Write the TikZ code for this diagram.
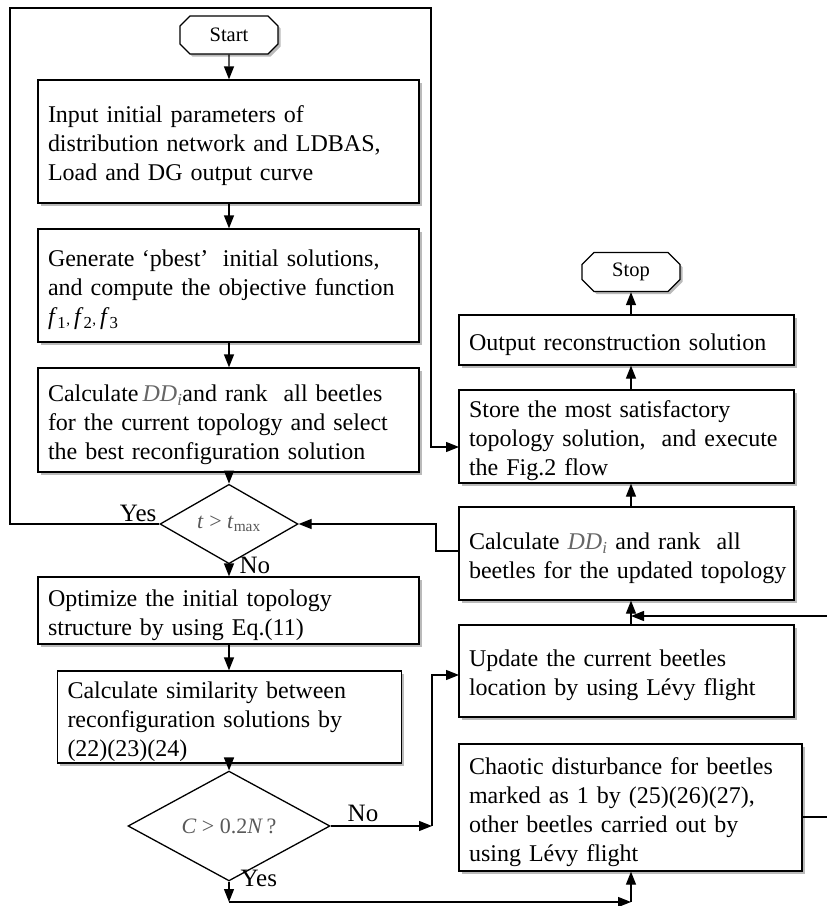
\documentclass[tikz,border=0pt]{standalone}
\usepackage{fontspec}
\setmainfont{Liberation Serif}
\usetikzlibrary{shapes.geometric,shapes.misc,arrows.meta,shadows}
\newcommand{\tp}{\rule{0pt}{26pt}}
\newcommand{\bxfont}{\fontsize{24}{29}\selectfont\hyphenpenalty=10000\relax\hbadness=10000\relax\hfuzz=20pt\relax}
\begin{document}
\begin{tikzpicture}[x=1pt,y=-1pt,
  line width=1.3pt,
  arr/.style={-{Triangle[length=13pt,width=10pt]}},
  shad/.style={drop shadow={shadow xshift=2.5pt,shadow yshift=-2.5pt,fill=black!45,opacity=0.6}},
  box/.style={draw,fill=white,shad,rectangle,inner xsep=10pt,inner ysep=0pt,align=left,
    font=\bxfont,anchor=center},
  term/.style={draw,fill=white,shad,chamfered rectangle,chamfered rectangle xsep=10pt,
    minimum width=98pt,minimum height=38pt,inner sep=0pt,font=\fontsize{20.5}{24}\selectfont},
  dec/.style={draw,fill=white,diamond,inner sep=0pt,font=\fontsize{22}{26}\selectfont,text=black!65},
  lbl/.style={font=\fontsize{25}{28}\selectfont,inner sep=0pt},
]
\useasboundingbox (0,0) rectangle (827,906);
% left column
\node[term] (start) at (229,35) {Start};
\node[box,minimum width=381pt,minimum height=123pt,text width=361pt] (input) at (228.5,141.5)
  {\tp Input initial parameters of\\distribution network and LDBAS,\\Load and DG output curve};
\node[box,minimum width=381pt,minimum height=113pt,text width=361pt] (gen) at (228.5,285.5)
  {\tp Generate\hspace{0.3em}‘pbest’\hspace{0.6em}initial solutions,\\and compute the objective function\\
   \textit{f}\textsubscript{1}{\fontsize{15}{15}\selectfont,}\,\textit{f}\textsubscript{2}{\fontsize{15}{15}\selectfont,}\,\textit{f}\textsubscript{3}};
\node[box,minimum width=381pt,minimum height=104pt,text width=361pt] (calc) at (228.5,420)
  {\tp Calculate\,{\color{black!60}\textit{DD}\textsubscript{\textit{i}}}and rank\ \ all beetles\\for the current topology and select\\the best reconfiguration solution};
\node[dec,minimum width=138pt,minimum height=51pt] (d1) at (229,524)
  {\textit{t} > \textit{t}\textsubscript{max}};
\node[box,minimum width=381pt,minimum height=67pt,text width=361pt] (opt) at (228.5,610.5)
  {\tp Optimize the initial topology\\structure by using Eq.(11)};
\node[box,minimum width=343pt,minimum height=92pt,text width=324pt] (sim) at (229.5,717)
  {\tp Calculate similarity between\\reconfiguration solutions by\\(22)(23)(24)};
\node[dec,minimum width=202pt,minimum height=71pt] (d2) at (229,826)
  {\textit{C} > 0.2\textit{N}\,?};
% right column
\node[term,minimum height=39pt] (stop) at (631,272) {Stop};
\node[box,minimum width=335pt,minimum height=50pt,text width=315pt] (out) at (626.5,340)
  {\tp Output reconstruction solution};
\node[box,minimum width=335pt,minimum height=93pt,text width=315pt] (store) at (626.5,436.5)
  {\tp Store the most satisfactory\\topology solution,\ \ and execute\\the Fig.2 flow};
\node[box,minimum width=335pt,minimum height=93pt,text width=315pt] (ddu) at (626.5,553.5)
  {\tp Calculate {\color{black!60}\textit{DD}\textsubscript{\textit{i}}} and rank\ \ all\\\mbox{beetles for the updated topology}};
\node[box,minimum width=335pt,minimum height=92pt,text width=315pt] (upd) at (626.5,671)
  {\tp Update the current beetles\\location by using Lévy flight};
\node[box,minimum width=343pt,minimum height=127pt,text width=323pt] (chaos) at (630.5,807.5)
  {\tp Chaotic disturbance for beetles\\marked as 1 by (25)(26)(27),\\other beetles carried out by\\using Lévy flight};
% labels
\node[lbl,anchor=south east] (yes1) at (157,522) {Yes};
\node[lbl,anchor=west] (no1) at (239,565) {No};
\node[lbl,anchor=south] (no2) at (363,822) {No};
\node[lbl,anchor=west] (yes2) at (240,878) {Yes};
% coordinates
\coordinate (l1) at (10,524);
\coordinate (l2) at (10,8);
\coordinate (l3) at (431,8);
\coordinate (l4) at (431,447);
\coordinate (s4) at (459,447);
\coordinate (r1) at (436,551);
\coordinate (r0) at (459,551);
\coordinate (r2) at (436,524);
\coordinate (n1) at (432,826);
\coordinate (n2) at (432,675);
\coordinate (n3) at (459,675);
\coordinate (y1) at (229,902);
\coordinate (y2) at (631,902);
\coordinate (c1) at (802,817);
\coordinate (c2) at (827,817);
\coordinate (c3) at (827,616);
\coordinate (c4) at (631,616);
% left arrows
\draw[arr] (start) -- (input.north -| start.south);
\draw[arr] (input.south -| start.south) -- (gen.north -| start.south);
\draw[arr] (gen.south -| start.south) -- (calc.north -| start.south);
\draw[arr] (calc.south -| d1.north) -- (d1.north);
\draw[arr] (d1.south) -- (opt.north -| d1.south);
\draw[arr] (opt.south -| d1.south) -- (sim.north -| d1.south);
\draw[arr] (sim.south -| d2.north) -- (d2.north);
% loop
\draw[arr] (d1.west) -- (l1) -- (l2) -- (l3) -- (l4) -- (s4);
\draw[arr] (r0) -- (r1) -- (r2) -- (d1.east);
% No branch of d2
\draw[arr] (d2.east) -- (n1);
\draw[arr] (n1) -- (n2) -- (n3);
% Yes branch of d2
\draw[arr] (d2.south) -- (y1);
\draw[arr] (y1) -- (y2);
\draw[arr] (y2) -- (chaos.south -| y2);
% right arrows
\draw[arr] (upd.north -| c4) -- (ddu.south -| c4);
\draw[arr] (ddu.north -| c4) -- (store.south -| c4);
\draw[arr] (store.north -| c4) -- (out.south -| c4);
\draw[arr] (out.north -| stop.south) -- (stop.south);
\draw (c1) -- (c2);
\draw[arr] (c3) -- (c4);
\end{tikzpicture}
\end{document}
